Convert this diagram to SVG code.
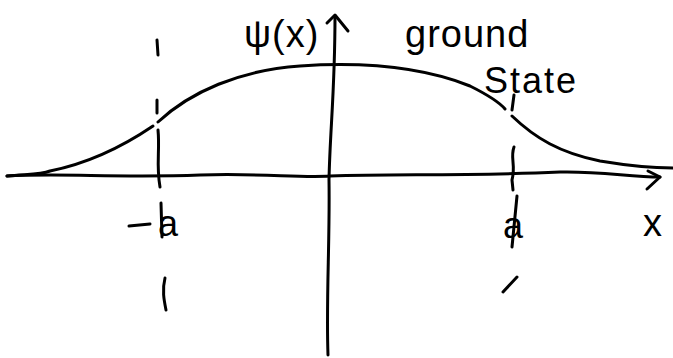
<svg xmlns="http://www.w3.org/2000/svg" width="673" height="358" viewBox="0 0 673 358">
<style>
.ln{fill:none;stroke:#000;stroke-width:3;stroke-linecap:round;stroke-linejoin:round}
.t{font-family:"Liberation Sans",Arial,sans-serif;fill:#000}
</style>
<rect width="673" height="358" fill="#fff"/>
<g id="axes">
<path class="ln" d="M7,176 C60,173 120,178 200,175 C260,173 300,178 330,176 C400,174 470,176 560,172 C600,171 630,177 660,177"/>
<path class="ln" d="M648,171 L660,177 L647,189"/>
<path class="ln" d="M328,355 C326,300 330,240 329,180 C330,130 335,90 335,16"/>
<path class="ln" d="M327,23 L335,15 L348,31"/>
</g>
<g id="curve">
<path class="ln" d="M7,176 C25,174 40,175 50,171 C90,163 125,145 153,126"/>
<path class="ln" d="M158,122 C190,92 240,70 300,66 C360,62 420,66 470,86 C490,96 500,103 505,109"/>
<path class="ln" d="M512,116 C535,138 560,153 600,161 C630,166 650,168 673,168"/>
</g>
<g id="tick-minus-a">
<path class="ln" d="M157,40 L158,55"/>
<path class="ln" d="M157,100 L157,113"/>
<path class="ln" d="M158,130 C160,150 156,165 160,187"/>
<path class="ln" d="M165,278 C162,290 164,300 166,310"/>
<path class="ln" d="M161,203 L162,237"/>
<path class="ln" d="M129,226 L150,224"/>
<text class="t" x="158" y="236" font-size="36">a</text>
</g>
<g id="tick-a">
<path class="ln" d="M514,95 L512,110"/>
<path class="ln" d="M514,147 C510,158 516,165 512,180 L513,190"/>
<path class="ln" d="M517,196 L512,247"/>
<path class="ln" d="M503,292 L517,277"/>
<text class="t" x="503" y="238" font-size="36">a</text>
</g>
<g id="labels">
<text class="t" x="244" y="47" font-size="38" letter-spacing="1">ψ(x)</text>
<text class="t" x="405" y="47" font-size="38" letter-spacing="1">ground</text>
<text class="t" x="484" y="93" font-size="36" letter-spacing="2">State</text>
<text class="t" x="643" y="236" font-size="38">x</text>
</g>
</svg>
